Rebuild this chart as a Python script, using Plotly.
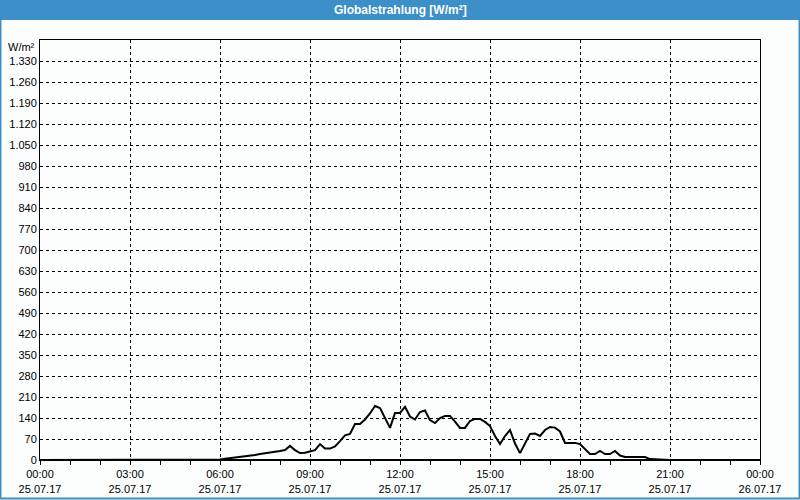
import plotly.graph_objects as go
import pandas as pd

# ---- data (10-minute readings, 25.07.17 00:00 .. 26.07.17 00:00) ----
values_night_morning = [  # 00:00 - 05:50
    0, 0, 0, 0, 0, 0,  0, 0, 0, 0, 0, 0,
    0, 0, 0, 0, 0, 0,  0, 0, 0, 0, 0, 0,
    0, 0, 0, 0, 0, 0,  0, 0, 0, 0, 0, 1,
]
values_day = [  # 06:00 - 20:50
    2, 4, 6, 9, 11, 13,          # 06
    13, 17, 20, 22, 24, 27,      # 07
    30, 33, 47, 33, 23, 24,      # 08
    28, 33, 53, 38, 38, 45,      # 09
    63, 82, 87, 120, 120, 135,   # 10
    155, 180, 173, 140, 107, 157,  # 11
    157, 177, 145, 135, 160, 165,  # 12
    133, 123, 140, 147, 147, 128,  # 13
    107, 107, 130, 137, 137, 127,  # 14
    113, 80, 53, 80, 100, 55,    # 15
    23, 55, 87, 88, 80, 100,     # 16
    110, 108, 95, 57, 57, 57,    # 17
    53, 35, 20, 20, 30, 20,      # 18
    20, 30, 15, 10, 10, 10,      # 19
    10, 10, 3, 3, 3, 1,          # 20
]
values_evening = [  # 21:00 - 00:00
    0, 0, 0, 0, 0, 0,  0, 0, 0, 0, 0, 0,
    0, 0, 0, 0, 0, 0,  0,
]
values = values_night_morning + values_day + values_evening

start = "2017-07-25 00:00"
x_tick_vals = ["2017-07-25 00:00", "2017-07-25 03:00", "2017-07-25 06:00",
               "2017-07-25 09:00", "2017-07-25 12:00", "2017-07-25 15:00",
               "2017-07-25 18:00", "2017-07-25 21:00", "2017-07-26 00:00"]
x_tick_text = ["00:00<br>25.07.17", "03:00<br>25.07.17", "06:00<br>25.07.17",
               "09:00<br>25.07.17", "12:00<br>25.07.17", "15:00<br>25.07.17",
               "18:00<br>25.07.17", "21:00<br>25.07.17", "00:00<br>26.07.17"]
y_tick_vals = [0, 70, 140, 210, 280, 350, 420, 490, 560, 630, 700, 770, 840,
               910, 980, 1050, 1120, 1190, 1260, 1330, 1400]
y_tick_text = ["0", "70", "140", "210", "280", "350", "420", "490", "560",
               "630", "700", "770", "840", "910", "980", "1.050", "1.120",
               "1.190", "1.260", "1.330", ""]
title_text = "Globalstrahlung [W/m²]"
unit_text = "W/m²"

times = pd.date_range(start, periods=len(values), freq="10min")

W, H = 800, 500
L, R, T, B = 40, 40, 40, 40
PW, PH = W - L - R, H - T - B
blue = "#3c8fc7"
bg = "#fcfefe"
font = "Liberation Sans"

def px(xp):
    return (xp - L) / PW

def py(yp):
    return (H - B - yp) / PH

fig = go.Figure()
fig.add_trace(go.Scatter(x=times, y=values, mode="lines",
                         line=dict(color="black", width=2), hoverinfo="skip"))

fig.update_layout(
    width=W, height=H,
    margin=dict(l=L, r=R, t=T, b=B, autoexpand=False),
    paper_bgcolor=bg, plot_bgcolor=bg,
    showlegend=False,
    font=dict(family=font, size=11, color="black"),
    xaxis=dict(
        type="date", automargin=False,
        range=["2017-07-25 00:00", "2017-07-26 00:00"],
        tickvals=x_tick_vals, ticktext=x_tick_text,
        showgrid=True, gridcolor="black", gridwidth=1, griddash="3px,3px",
        showline=True, linecolor="black", linewidth=1, mirror=True,
        ticks="outside", ticklen=4, tickcolor="black", tickwidth=1,
        minor=dict(dtick=3600000, ticks="outside", ticklen=4,
                   tickcolor="black", showgrid=False),
        zeroline=False, fixedrange=True,
    ),
    yaxis=dict(
        automargin=False,
        range=[0, 1400],
        tickvals=y_tick_vals, ticktext=y_tick_text,
        showgrid=True, gridcolor="black", gridwidth=1, griddash="3px,3px",
        showline=True, linecolor="black", linewidth=1, mirror=True,
        ticks="", ticklabelstandoff=0,
        zeroline=False, fixedrange=True,
    ),
    shapes=[
        dict(type="rect", xref="paper", yref="paper",
             x0=px(0), x1=px(W), y0=py(20), y1=py(0),
             fillcolor=blue, line=dict(width=0), layer="above"),
        dict(type="rect", xref="paper", yref="paper",
             x0=px(0.5), x1=px(W - 0.5), y0=py(H - 1.5), y1=py(0),
             fillcolor="rgba(0,0,0,0)", line=dict(color=blue, width=2),
             layer="above"),
        dict(type="line", xref="paper", yref="paper",
             x0=0, x1=1, y0=0, y1=0,
             line=dict(color="black", width=2), layer="above"),
    ],
    annotations=[
        dict(text="<b>" + title_text + "</b>", xref="paper", yref="paper",
             x=0.5, y=py(10), xanchor="center", yanchor="middle",
             showarrow=False, font=dict(family=font, size=12, color="white")),
        dict(text=unit_text, xref="paper", yref="paper",
             x=px(37), y=py(47), xanchor="right", yanchor="middle",
             showarrow=False, font=dict(family=font, size=11, color="black")),
    ],
)

fig.write_html("out.html", config={"displayModeBar": False})
